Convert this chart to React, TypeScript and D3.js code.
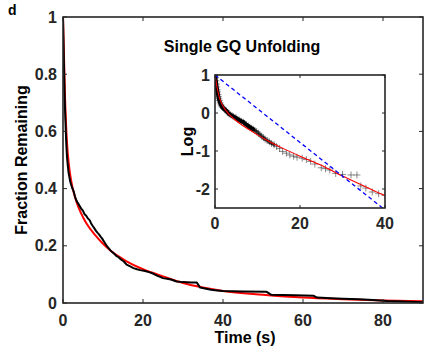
import * as d3 from "d3";
import React, { useEffect, useRef } from "react";

// survival data (time s, fraction remaining)
const dataTime = [0, 0.1, 0.2, 0.3, 0.4, 0.5, 0.6, 0.7, 0.8, 0.9, 1.0, 1.2, 1.4, 1.6, 1.8, 2.0, 2.3, 2.6, 3.0, 3.3, 3.6, 4.0, 4.3, 4.7, 5.0, 5.4, 5.8, 6.2, 6.7, 7.0, 7.4, 7.8, 8.2, 8.6, 9.0, 9.4, 9.8, 10.2, 10.6, 11.0, 11.4, 11.8, 12.3, 12.8, 13.3, 13.9, 14.5, 15.2, 15.9, 16.8, 17.6, 18.5, 19.3, 20.5, 21.5, 22.5, 23.5, 25.0, 26.0, 27.0, 28.4, 30.0, 32.0, 33.4, 34.3, 35.5, 37.0, 38.5, 40.0, 45.0, 50.9, 52.0, 55.0, 58.0, 62.6, 63.5, 67.0, 70.0, 74.0, 77.5, 81.0, 85.0, 90.0];
const dataFrac = [1.0, 0.93, 0.86, 0.79, 0.73, 0.68, 0.64, 0.6, 0.565, 0.535, 0.51, 0.48, 0.455, 0.44, 0.425, 0.415, 0.402, 0.393, 0.372, 0.36, 0.352, 0.343, 0.336, 0.327, 0.322, 0.31, 0.305, 0.296, 0.289, 0.279, 0.27, 0.262, 0.253, 0.246, 0.24, 0.232, 0.225, 0.216, 0.207, 0.199, 0.192, 0.185, 0.178, 0.172, 0.165, 0.16, 0.152, 0.145, 0.134, 0.128, 0.122, 0.118, 0.115, 0.112, 0.108, 0.103, 0.096, 0.087, 0.085, 0.082, 0.075, 0.073, 0.072, 0.072, 0.054, 0.051, 0.046, 0.044, 0.042, 0.04, 0.039, 0.029, 0.028, 0.027, 0.0255, 0.019, 0.017, 0.015, 0.013, 0.0105, 0.007, 0.005, 0.003];

// fitted curve (red)
const fitTime = [0, 0.5, 1, 1.5, 2, 3, 4, 5, 6, 8, 10, 12, 14, 16, 20, 25, 30, 35, 40, 50, 60, 70, 80, 90];
const fitFrac = [1.0, 0.72, 0.56, 0.48, 0.43, 0.37, 0.33, 0.3, 0.275, 0.238, 0.207, 0.182, 0.162, 0.145, 0.118, 0.093, 0.07, 0.054, 0.042, 0.029, 0.019, 0.013, 0.0085, 0.006];

// single-exponential reference (blue dashed, inset)
const refTime = [0, 40];
const refLog = [1, -2.55];

const mainXTicks = [0, 20, 40, 60, 80];
const mainYTicks = [0, 0.2, 0.4, 0.6, 0.8, 1];
const insetXTicks = [0, 20, 40];
const insetYTicks = [-2, -1, 0, 1];

const FONT = "'Liberation Sans', Arial, Helvetica, sans-serif";
const AXIS = "#262626";

export default function App() {
  const ref = useRef<SVGSVGElement>(null);

  useEffect(() => {
    const svg = d3.select(ref.current);
    svg.selectAll("*").remove();

    const data = dataTime.map((t, i) => ({ t, f: dataFrac[i] }));
    const fit = fitTime.map((t, i) => ({ t, f: fitFrac[i] }));
    const blue = refTime.map((t, i) => ({ t, v: refLog[i] }));

    // ---- main plot
    const main = { left: 63, right: 423, top: 17, bottom: 303 };
    const x = d3.scaleLinear().domain([0, 90]).range([main.left, main.right]);
    const y = d3.scaleLinear().domain([0, 1]).range([main.bottom, main.top]);

    const defs = svg.append("defs");
    defs.append("clipPath").attr("id", "main-clip")
      .append("rect").attr("x", main.left).attr("y", main.top - 2)
      .attr("width", main.right - main.left).attr("height", main.bottom - main.top + 2);

    const plot = svg.append("g").attr("clip-path", "url(#main-clip)");
    plot.append("path").datum(fit)
      .attr("d", d3.line<{ t: number; f: number }>().x(d => x(d.t)).y(d => y(d.f)).curve(d3.curveMonotoneX))
      .attr("fill", "none").attr("stroke", "#ff0000").attr("stroke-width", 2);
    plot.append("path").datum(data)
      .attr("d", d3.line<{ t: number; f: number }>().x(d => x(d.t)).y(d => y(d.f)))
      .attr("fill", "none").attr("stroke", "#000").attr("stroke-width", 2)
      .attr("stroke-linejoin", "round");

    const ticks = svg.append("g").attr("stroke", AXIS).attr("stroke-width", 1);
    mainXTicks.forEach(v => {
      ticks.append("line").attr("x1", x(v)).attr("x2", x(v)).attr("y1", main.bottom).attr("y2", main.bottom - 4);
      ticks.append("line").attr("x1", x(v)).attr("x2", x(v)).attr("y1", main.top).attr("y2", main.top + 4);
    });
    mainYTicks.forEach(v => {
      ticks.append("line").attr("x1", main.left).attr("x2", main.left + 4).attr("y1", y(v)).attr("y2", y(v));
      ticks.append("line").attr("x1", main.right).attr("x2", main.right - 4).attr("y1", y(v)).attr("y2", y(v));
    });
    svg.append("rect").attr("x", main.left).attr("y", main.top)
      .attr("width", main.right - main.left).attr("height", main.bottom - main.top)
      .attr("fill", "none").attr("stroke", AXIS).attr("stroke-width", 1.6);

    const labels = svg.append("g").attr("font-family", FONT).attr("font-weight", "bold")
      .attr("font-size", 16).attr("fill", AXIS);
    mainXTicks.forEach(v => {
      labels.append("text").attr("x", x(v)).attr("y", 325.5).attr("text-anchor", "middle").text(String(v));
    });
    mainYTicks.forEach(v => {
      labels.append("text").attr("x", 57).attr("y", y(v) + 5.5).attr("text-anchor", "end").text(String(v));
    });
    labels.append("text").attr("x", 245).attr("y", 343).attr("text-anchor", "middle")
      .attr("fill", "#000").text("Time (s)");
    labels.append("text").attr("transform", `translate(27, ${(main.top + main.bottom) / 2}) rotate(-90)`)
      .attr("text-anchor", "middle").attr("fill", "#000").text("Fraction Remaining");
    svg.append("text").attr("x", 8).attr("y", 15).attr("font-family", FONT).attr("font-weight", "bold")
      .attr("font-size", 14).attr("fill", "#000").text("d");
    labels.append("text").attr("x", 242).attr("y", 52).attr("text-anchor", "middle")
      .attr("fill", "#000").text("Single GQ Unfolding");

    // ---- inset
    const inset = { left: 215, right: 385, top: 75, bottom: 208 };
    const ix = d3.scaleLinear().domain([0, 40]).range([inset.left, inset.right]);
    const iy = d3.scaleLinear().domain([-2.5, 1]).range([inset.bottom, inset.top]);

    svg.append("rect").attr("x", inset.left).attr("y", inset.top)
      .attr("width", inset.right - inset.left).attr("height", inset.bottom - inset.top).attr("fill", "#fff");
    defs.append("clipPath").attr("id", "inset-clip")
      .append("rect").attr("x", inset.left).attr("y", inset.top)
      .attr("width", inset.right - inset.left).attr("height", inset.bottom - inset.top);
    const ip = svg.append("g").attr("clip-path", "url(#inset-clip)");

    const logLine = d3.line<{ t: number; f: number }>().x(d => ix(d.t)).y(d => iy(Math.log(d.f) + 1));

    // dense early band where the '+' markers pile up
    ip.append("path").datum(data.filter(d => d.t <= 9))
      .attr("d", logLine).attr("fill", "none").attr("stroke", "#000").attr("stroke-width", 4)
      .attr("stroke-linejoin", "round").attr("stroke-linecap", "round");
    ip.append("path").datum(data.filter(d => d.t >= 8.5 && d.t <= 14))
      .attr("d", logLine).attr("fill", "none").attr("stroke", "#000").attr("stroke-opacity", 0.7)
      .attr("stroke-width", 3).attr("stroke-linecap", "round");

    // data markers (+)
    const marks = ip.append("g").attr("stroke", "#000").attr("stroke-opacity", 0.45).attr("stroke-width", 1);
    data.filter(d => d.t <= 41).forEach(d => {
      const cx = ix(d.t);
      const cy = iy(Math.log(d.f) + 1);
      marks.append("line").attr("x1", cx - 3.5).attr("x2", cx + 3.5).attr("y1", cy).attr("y2", cy);
      marks.append("line").attr("x1", cx).attr("x2", cx).attr("y1", cy - 3.5).attr("y2", cy + 3.5);
    });

    ip.append("path").datum(fit)
      .attr("d", logLine.curve(d3.curveMonotoneX))
      .attr("fill", "none").attr("stroke", "#ff0000").attr("stroke-width", 1.1);
    ip.append("path").datum(blue)
      .attr("d", d3.line<{ t: number; v: number }>().x(d => ix(d.t)).y(d => iy(d.v)))
      .attr("fill", "none").attr("stroke", "#0000ff").attr("stroke-width", 1.3).attr("stroke-dasharray", "4,3");

    insetXTicks.forEach(v => {
      ticks.append("line").attr("x1", ix(v)).attr("x2", ix(v)).attr("y1", inset.bottom).attr("y2", inset.bottom - 3);
      ticks.append("line").attr("x1", ix(v)).attr("x2", ix(v)).attr("y1", inset.top).attr("y2", inset.top + 3);
    });
    insetYTicks.forEach(v => {
      ticks.append("line").attr("x1", inset.left).attr("x2", inset.left + 3).attr("y1", iy(v)).attr("y2", iy(v));
      ticks.append("line").attr("x1", inset.right).attr("x2", inset.right - 3).attr("y1", iy(v)).attr("y2", iy(v));
    });
    svg.append("rect").attr("x", inset.left).attr("y", inset.top)
      .attr("width", inset.right - inset.left).attr("height", inset.bottom - inset.top)
      .attr("fill", "none").attr("stroke", AXIS).attr("stroke-width", 1.6);
    svg.node()!.appendChild(ticks.node()!);

    const il = svg.append("g").attr("font-family", FONT).attr("font-weight", "bold")
      .attr("font-size", 16).attr("fill", AXIS);
    insetXTicks.forEach(v => {
      il.append("text").attr("x", ix(v)).attr("y", 228.5).attr("text-anchor", "middle").text(String(v));
    });
    insetYTicks.forEach(v => {
      il.append("text").attr("x", 210).attr("y", iy(v) + 5.5).attr("text-anchor", "end").text(String(v));
    });
    il.append("text").attr("transform", `translate(193, ${(inset.top + inset.bottom) / 2}) rotate(-90)`)
      .attr("text-anchor", "middle").attr("fill", "#000").text("Log");
  }, []);

  return (
    <svg ref={ref} width={425} height={349}
      style={{ position: "absolute", left: 0, top: 0, background: "#fff" }} />
  );
}
